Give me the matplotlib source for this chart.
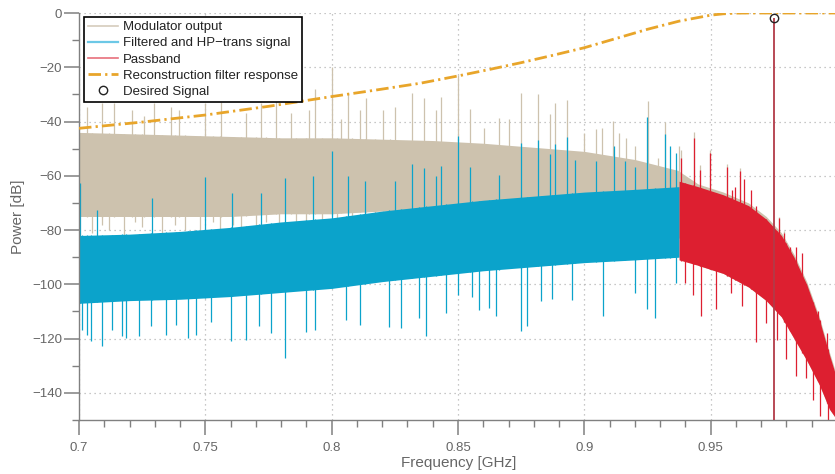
import numpy as np
import matplotlib.pyplot as plt
from matplotlib.lines import Line2D

plt.rcParams['font.family'] = ['Liberation Sans', 'DejaVu Sans']

# ---- data (frequency in GHz, power in dB) ----
# dense core of each spectrum: frequency nodes with upper / lower edge
mod_f = [0.70, 0.72, 0.74, 0.76, 0.78, 0.80, 0.82, 0.84, 0.86, 0.88, 0.90, 0.92,
         0.937, 0.945, 0.955, 0.965, 0.972, 0.978, 0.983, 0.988, 0.993, 0.997, 1.0]
mod_hi = [-44, -44.5, -45, -45.5, -46, -46, -46.5, -47, -48, -49.5, -51, -54,
          -58, -63, -66, -70, -75, -81, -89, -99, -112, -125, -134]
mod_lo = [-75, -75, -75, -75, -74, -74, -73, -73, -74, -76, -78, -80,
          -82, -93, -96, -101, -106, -112, -120, -128, -137, -146, -150]

flt_f = [0.70, 0.72, 0.74, 0.76, 0.78, 0.80, 0.82, 0.84, 0.86, 0.88, 0.90, 0.92, 0.9375]
flt_hi = [-82, -81.5, -80.5, -79, -77, -75.5, -73, -71, -69, -67.5, -66, -65, -64]
flt_lo = [-107, -106, -105.5, -104.5, -103, -101.5, -99, -97, -95, -93.5, -92, -91, -90]

pb_f = [0.9375, 0.945, 0.955, 0.965, 0.972, 0.978, 0.983, 0.988, 0.993, 0.997, 1.0]
pb_hi = [-62, -64, -67, -71, -76, -82, -90, -100, -113, -126, -135]
pb_lo = [-91, -93, -96, -101, -106, -112, -120, -128, -137, -146, -150]

# spikes sticking out of the cores
mod_up_f = [0.7032, 0.7090, 0.7138, 0.7211, 0.7257, 0.7297, 0.7363, 0.7396, 0.7500,
            0.7563, 0.7659, 0.7719, 0.7778, 0.7841, 0.7910, 0.7934, 0.8000, 0.8035,
            0.8065, 0.8114, 0.8134, 0.8203, 0.8249, 0.8316, 0.8365, 0.8412, 0.8431,
            0.8500, 0.8547, 0.8603, 0.8662, 0.8700, 0.8749, 0.8817, 0.8863, 0.8884,
            0.8932, 0.8999, 0.9048, 0.9068, 0.9115, 0.9137, 0.9165, 0.9200, 0.9252,
            0.9290, 0.9318, 0.9376, 0.9384, 0.9433, 0.9459, 0.9499, 0.9566, 0.9615,
            0.9769, 0.9792]
mod_up_v = [-34.5, -33, -33, -35.7, -38, -33, -34.5, -35.7, -33,
            -32.7, -37, -33, -31.3, -37, -35.7, -28, -19.8, -39,
            -29.5, -35.7, -31.3, -35.7, -34.5, -29.3, -31.3, -35.7, -30.8,
            -22.8, -35.3, -42.5, -38.8, -39, -29.3, -29.8, -37.3, -33,
            -32, -44.3, -42.7, -42.2, -39.7, -44.3, -46.2, -49.2, -32.3,
            -53.5, -40.1, -49.2, -50.5, -44, -56, -50.5, -55.5, -57,
            -75, -80.5]
mod_dn_f = [0.7050, 0.7090, 0.7120, 0.7180, 0.7220, 0.7250, 0.7330, 0.7380, 0.7420,
            0.7480, 0.7530, 0.7560, 0.7610, 0.7640, 0.7700, 0.7740, 0.7790, 0.7860,
            0.7900, 0.7960, 0.8020, 0.8080, 0.8130, 0.8170, 0.8230]
mod_dn_v = [-81, -78, -80, -82, -77, -79, -81, -78, -80,
            -83, -77, -80, -78, -82, -79, -77, -81, -80,
            -77, -82, -78, -80, -77, -79, -76]

flt_up_f = [0.7004, 0.7070, 0.7290, 0.7498, 0.7605, 0.7721, 0.7815, 0.7927, 0.8000,
            0.8065, 0.8131, 0.8250, 0.8316, 0.8365, 0.8412, 0.8432, 0.8500, 0.8547,
            0.8662, 0.8751, 0.8817, 0.8863, 0.8883, 0.8933, 0.8963, 0.9048, 0.9116,
            0.9160, 0.9202, 0.9250, 0.9318, 0.9338, 0.9364]
flt_up_v = [-62.6, -72.5, -68, -60.3, -66.4, -66.4, -60.8, -60.1, -50.7,
            -60.1, -62, -62, -55.7, -57.2, -60.1, -56.3, -45.3, -56.6,
            -59.8, -47.8, -46.8, -52, -48.4, -45.8, -54, -54.5, -49.2,
            -54.5, -56.6, -38.2, -44.6, -49.2, -51.6]
flt_dn_f = [0.7013, 0.7033, 0.7046, 0.7090, 0.7132, 0.7169, 0.7185, 0.7237, 0.7284,
            0.7345, 0.7383, 0.7432, 0.7464, 0.7521, 0.7600, 0.7659, 0.7712, 0.7758,
            0.7814, 0.7897, 0.7936, 0.8055, 0.8114, 0.8226, 0.8273, 0.8345, 0.8374,
            0.8451, 0.8501, 0.8556, 0.8585, 0.8623, 0.8652, 0.8751, 0.8775, 0.8828,
            0.8874, 0.8953, 0.9072, 0.9202, 0.9248, 0.9279, 0.9361]
flt_dn_v = [-116.8, -118.6, -120.8, -122.9, -116.7, -119.0, -119.8, -119.2, -115.5,
            -118.6, -114.9, -119.8, -118.6, -113.7, -120.8, -120.4, -115.5, -118.0,
            -127.0, -117.4, -116.7, -113.1, -114.9, -115.9, -116.1, -112.5, -119.0,
            -110.6, -104.1, -104.5, -109.4, -108.9, -111.6, -117.1, -115.5, -106.1,
            -105.3, -105.7, -111.6, -103.2, -109.0, -112.5, -99.6]

pb_up_f = [0.9384, 0.9433, 0.9459, 0.9499, 0.9566, 0.9586, 0.9595, 0.9615, 0.9632,
           0.9661, 0.9681, 0.9769, 0.9792, 0.9813, 0.9836, 0.9863, 0.9923, 0.9960]
pb_up_v = [-53.5, -46.2, -57.8, -51.7, -56.6, -65.2, -64, -58.1, -61.3,
           -65.4, -71.3, -75.6, -81.1, -86.1, -86.1, -88.5, -110, -118]
pb_dn_f = [0.9397, 0.9432, 0.9463, 0.9523, 0.9582, 0.9624, 0.9678, 0.9720, 0.9764,
           0.9797, 0.9839, 0.9879, 0.9905, 0.9931, 0.9963]
pb_dn_v = [-99.6, -104.1, -111.6, -109.0, -103.2, -107.9, -121.3, -114.3, -120.4,
           -127.5, -133.9, -134.5, -142.5, -148.7, -150]

# reconstruction filter response
rec_f = [0.70, 0.725, 0.75, 0.775, 0.80, 0.8175, 0.835, 0.85, 0.8625, 0.875, 0.8875,
         0.90, 0.9125, 0.925, 0.9375, 0.95, 0.955, 0.96, 0.965, 1.0]
rec_v = [-42.5, -40.2, -37.6, -34.4, -30.8, -28.4, -25.9, -23.2, -20.8, -18.3, -15.6,
         -12.8, -9.4, -6.0, -3.0, -0.8, -0.3, -0.05, 0.0, 0.0]

# desired signal
sig_f = 0.975
sig_v = -1.8

c_mod = '#cdc2ae'
c_flt = '#0ba3cb'
c_pb = '#dd1f30'
c_rec = '#e8a52a'
c_txt = '#666666'

fig = plt.figure(figsize=(8.35, 4.74), dpi=100)
ax = fig.add_axes([79 / 835, 54 / 474, 758 / 835, 407 / 474])

def band(f, hi, lo, up_f, up_v, dn_f, dn_v, color):
    ax.fill_between(f, lo, hi, color=color, lw=0, zorder=2)
    ax.vlines(up_f, np.interp(up_f, f, lo), up_v, color=color, lw=0.9, zorder=2)
    ax.vlines(dn_f, np.interp(dn_f, f, hi), dn_v, color=color, lw=0.9, zorder=2)

band(mod_f, mod_hi, mod_lo, mod_up_f, mod_up_v, mod_dn_f, mod_dn_v, c_mod)
band(flt_f, flt_hi, flt_lo, flt_up_f, flt_up_v, flt_dn_f, flt_dn_v, c_flt)
band(pb_f, pb_hi, pb_lo, pb_up_f, pb_up_v, pb_dn_f, pb_dn_v, c_pb)

ax.vlines(sig_f, -150, sig_v, color='#b23a48', lw=1.3, zorder=3)
ax.plot(rec_f, rec_v, color=c_rec, lw=2, dashes=(4.5, 1.5, 0.8, 1.5), zorder=4)
ax.plot(sig_f, sig_v, 'o', mfc='none', mec='#222222', ms=6, mew=1, zorder=5)

ax.set_xlim(0.7, 1.0)
ax.set_ylim(-150, 0)
ax.set_xticks([0.7, 0.75, 0.8, 0.85, 0.9, 0.95])
ax.set_xticklabels(['0.7', '0.75', '0.8', '0.85', '0.9', '0.95'])
ax.set_xticks(np.arange(0.7, 1.0, 0.01), minor=True)
ax.set_yticks(np.arange(-140, 1, 20))
ax.set_yticks(np.arange(-150, 1, 10), minor=True)
ax.grid(True, which='major', color='#b5b5b5', linestyle=(0, (1, 3)), lw=0.9)
ax.set_axisbelow(True)

for s in ['top', 'right']:
    ax.spines[s].set_visible(False)
for s in ['left', 'bottom']:
    ax.spines[s].set_color('#808080')
    ax.spines[s].set_linewidth(1.0)
ax.tick_params(which='major', direction='out', length=11, width=1.1, colors='#808080',
               labelcolor=c_txt, labelsize=9.5)
ax.tick_params(which='minor', direction='out', length=5, width=1.0, colors='#808080')
ax.tick_params(axis='x', which='major', pad=5)
ax.tick_params(axis='y', which='major', pad=1)

ax.set_xlabel('Frequency [GHz]', fontsize=11, color=c_txt)
ax.set_ylabel('Power [dB]', fontsize=11, color=c_txt)
ax.xaxis.set_label_coords(0.501, -0.0885)
ax.yaxis.set_label_coords(-0.071, 0.5)

handles = [Line2D([], [], color='#d6ccbc', lw=1.2),
           Line2D([], [], color='#6cc8e6', lw=1.6),
           Line2D([], [], color='#e8707c', lw=1.2),
           Line2D([], [], color=c_rec, lw=2, dashes=(4.5, 1.5, 0.8, 1.5)),
           Line2D([], [], ls='none', marker='o', mfc='none', mec='#222222', ms=6)]
labels = ['Modulator output', 'Filtered and HP\u2212trans signal', 'Passband',
          'Reconstruction filter response', 'Desired Signal']
leg = ax.legend(handles, labels, loc='upper left', bbox_to_anchor=(0.006, 0.99),
                borderaxespad=0, fontsize=9.5, handlelength=2.3, handletextpad=0.4,
                labelspacing=0.3, borderpad=0.3, fancybox=False, framealpha=1)
leg.get_frame().set_edgecolor('black')
leg.get_frame().set_linewidth(1.2)
for t in leg.get_texts():
    t.set_color('#222222')
leg.set_zorder(10)

fig.savefig('out.png', dpi=100)
